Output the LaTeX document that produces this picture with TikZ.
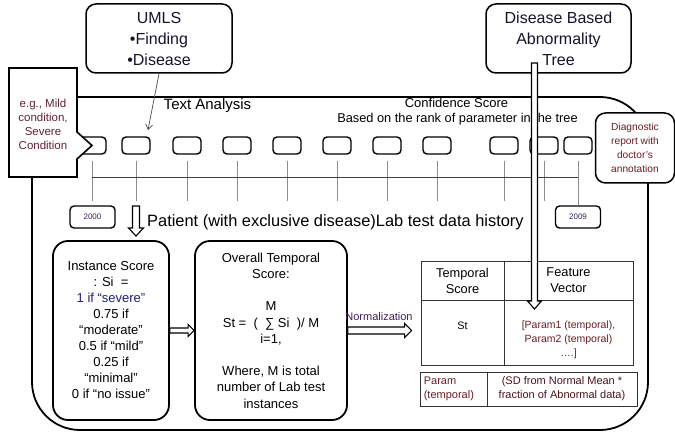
\documentclass[tikz,border=0pt]{standalone}
\usepackage{fontspec}
\setmainfont{Liberation Sans}
\usetikzlibrary{calc,arrows.meta}
\definecolor{plum}{RGB}{95,35,55}
\definecolor{dred}{RGB}{105,30,35}
\definecolor{navy}{RGB}{30,30,120}
\definecolor{npurple}{RGB}{60,30,90}
\definecolor{dtext}{RGB}{25,20,45}
\newcommand{\fsz}[2]{\fontsize{#1}{#2}\selectfont}
% hollow arrows: from #1 to #2, shaft half width #3, head half width #4, head length #5
\newcommand{\hollowright}[5]{\draw[harrow] ($(#1)+(0,#3)$) -- ($(#2)+(-#5,#3)$) -- ($(#2)+(-#5,#4)$) -- (#2) -- ($(#2)+(-#5,-#4)$) -- ($(#2)+(-#5,-#3)$) -- ($(#1)+(0,-#3)$) -- cycle;}
\newcommand{\hollowdown}[5]{\draw[harrow] ($(#1)+(-#3,0)$) -- ($(#2)+(-#3,-#5)$) -- ($(#2)+(-#4,-#5)$) -- (#2) -- ($(#2)+(#4,-#5)$) -- ($(#2)+(#3,-#5)$) -- ($(#1)+(#3,0)$) -- cycle;}
\begin{document}
\begin{tikzpicture}[x=1pt,y=-1pt,
  tbox/.style={draw, line width=1.4pt, rounded corners=4pt, minimum width=28pt, minimum height=17pt, inner sep=0pt, fill=white},
  rbox/.style={draw, line width=1.5pt, rounded corners=10pt, fill=white, align=center, inner sep=0pt},
  bigbox/.style={draw, line width=1.8pt, rounded corners=15pt, fill=white, align=center, inner sep=0pt},
  tickl/.style={draw=black!45, line width=0.7pt},
  cell/.style={draw=black!80, line width=0.8pt, inner sep=0pt},
  harrow/.style={draw, fill=white, line width=1.1pt, line join=miter},
  ybox/.style={draw, line width=1.4pt, rounded corners=4pt, minimum width=45pt, minimum height=22pt, inner sep=0pt, font=\fsz{8}{9}, text=npurple},
  lbl/.style={align=center, inner sep=0pt},
]
\useasboundingbox (0,0) rectangle (675,433);

% main rounded frame
\draw[line width=1.8pt, rounded corners=48pt] (32,97) rectangle (648,430);

% time boxes
\foreach \i/\x in {1/92,2/136,3/187,4/237,5/287,6/337,7/387,8/437,9/504,10/544,11/578}
  \node[tbox] (b\i) at (\x,145.5) {};

% year boxes
\node[ybox] (y2000) at (92.5,217) {2000};
\node[ybox] (y2009) at (578,217) {2009};

% ticks and time axis
\foreach \i in {1,...,10}
  \draw[tickl] ([yshift=-6pt]b\i.south) -- ++(0,40);
\draw[tickl] ([yshift=-6pt]b11.south) -- (y2009.north);
\draw[line width=0.7pt, black!75] ([yshift=-23pt]b1.south) -- ([yshift=-23pt]b11.south);

% callout on the left
\draw[line width=1.6pt, fill=white, line join=miter] (9,68) -- (77,68) -- (77,132) -- (92,145.5) -- (77,159) -- (77,177) -- (9,177) -- cycle;
\node[lbl, font=\fsz{11.5}{14}, text=plum] (callout) at (43,124) {e.g., Mild\\condition,\\Severe\\Condition};

% UMLS box
\node[rbox, minimum width=146pt, minimum height=69pt, font=\fsz{16}{21}, text=dtext] (umls) at (159,38.5) {UMLS\\•Finding\\•Disease};
\coordinate (uend) at (148,130);
\draw[black!70, line width=0.7pt, -{Straight Barb[length=5pt,width=7pt]}] (umls.south) -- (uend);

% Text Analysis
\node[lbl, font=\fsz{15}{18}] (ta) at (207.5,105.5) {Text Analysis};

% Disease tree box
\node[rbox, minimum width=145pt, minimum height=69pt, font=\fsz{16}{21}, text=dtext] (tree) at (558.5,38.5) {Disease Based\\Abnormality\\Tree};

% Confidence score
\node[lbl, font=\fsz{13}{16}] (conf) at (456.5,103) {Confidence Score};
\node[lbl, font=\fsz{12.8}{16}] (rank) at (457.5,119) {Based on the rank of parameter in the tree};

% Diagnostic box
\node[rbox, minimum width=79pt, minimum height=70pt, font=\fsz{10.2}{14}, text=dred] (diag) at (635,148) {Diagnostic\\report with\\doctor's\\annotation};

% Patient text
\node[anchor=west, inner sep=0pt, font=\fsz{16.4}{19}] (pat) at (147,222.5) {Patient (with exclusive disease)Lab test data history};

% down hollow arrow
\coordinate (pd1) at (136,206);
\coordinate (pd2) at (136,236);
\hollowdown{pd1}{pd2}{3.5}{7.5}{8}

% Instance score box
\node[bigbox, minimum width=116pt, minimum height=179pt, font=\fsz{13}{16}] (inst) at (111,330.5)
  {Instance Score\\: Si\ \ =\\\textcolor{navy}{1 if “severe”}\\0.75 if\\“moderate”\\0.5 if “mild”\\0.25 if\\“minimal”\\0 if “no issue”};

% Overall temporal score box
\node[bigbox, minimum width=152pt, minimum height=179pt, font=\fsz{13}{16.2}] (over) at (271,330.5)
  {Overall Temporal\\Score:\\[16.2pt]M\\St =\ \ (\ \ ∑ Si\ \ )/ M\\i=1,\\[16.2pt]Where, M is total\\number of Lab test\\instances};

\hollowright{inst.east}{over.west}{2.5}{6}{6}

% table 1
\node[cell, minimum width=83pt, minimum height=39pt] (c11) at (462.5,280.5) {};
\node[cell, minimum width=129pt, minimum height=39pt] (c12) at (568.5,280.5) {};
\node[cell, minimum width=83pt, minimum height=65pt] (c21) at (462.5,332.5) {};
\node[cell, minimum width=129pt, minimum height=65pt] (c22) at (568.5,332.5) {};
\node[lbl, font=\fsz{12.8}{16}] (t11) at (c11.center) {Temporal\\Score};
\node[lbl, font=\fsz{12.8}{16}] (t12) at (c12.center) {Feature\\Vector};
\node[lbl, font=\fsz{10.8}{14}] (t21) at ([yshift=7pt]c21.center) {St};
\node[lbl, font=\fsz{10.5}{14}, text=dred] (t22) at ([yshift=-7pt]c22.center) {[Param1 (temporal),\\Param2 (temporal)\\….]};

% table 2
\node[cell, minimum width=67pt, minimum height=34pt] (p1) at (453.5,389) {};
\node[cell, minimum width=150pt, minimum height=34pt] (p2) at (562,389) {};
\node[align=left, inner sep=0pt, anchor=west, font=\fsz{11}{14}, text=dred] (tp1) at ([xshift=4pt]p1.west) {Param\\(temporal)};
\node[lbl, font=\fsz{11}{14}, text=dred!70!black] (tp2) at (p2.center) {(SD from Normal Mean *\\fraction of Abnormal data)};

% normalization arrow
\coordinate (nend) at ($(over.east -| c21.west)+(-9,0)$);
\hollowright{over.east}{nend}{3.5}{7}{7}
\node[lbl, font=\fsz{11}{13}, text=npurple] (norm) at (379,317) {Normalization};

% tree to feature vector arrow
\coordinate (tra) at (534.5,63);
\coordinate (trb) at (534.5,309);
\hollowdown{tra}{trb}{3}{7}{8}
\end{tikzpicture}
\end{document}
